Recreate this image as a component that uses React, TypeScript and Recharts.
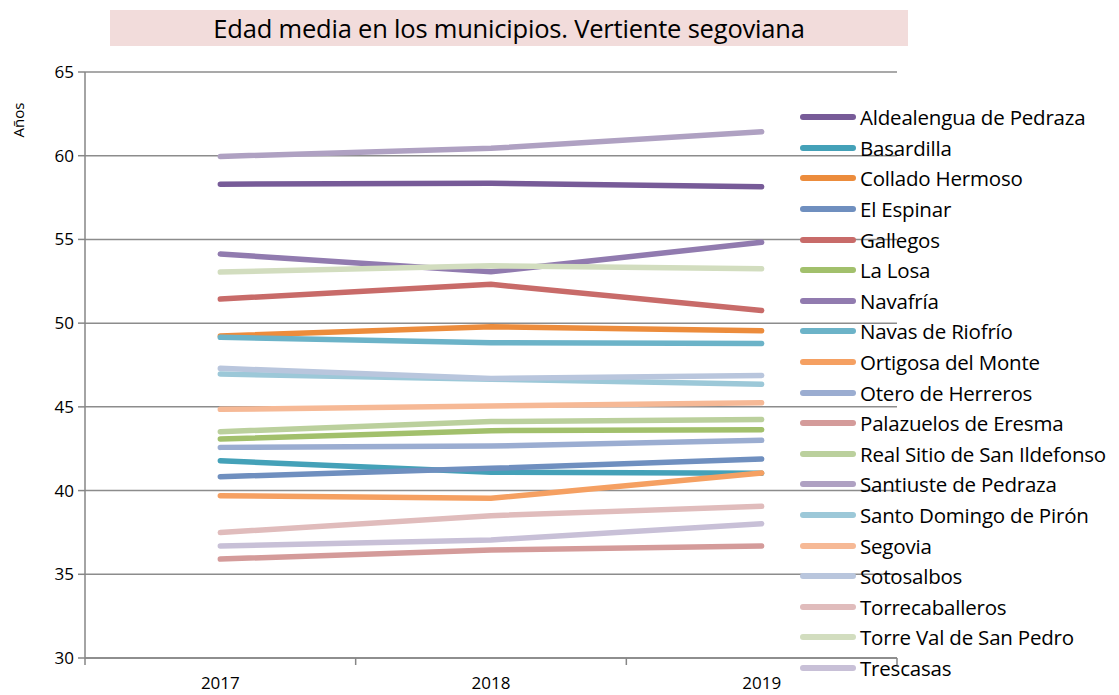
import { LineChart, Line, XAxis, YAxis, CartesianGrid } from 'recharts';

const years = ['2017', '2018', '2019'];

const municipios = [
  'Aldealengua de Pedraza',
  'Basardilla',
  'Collado Hermoso',
  'El Espinar',
  'Gallegos',
  'La Losa',
  'Navafría',
  'Navas de Riofrío',
  'Ortigosa del Monte',
  'Otero de Herreros',
  'Palazuelos de Eresma',
  'Real Sitio de San Ildefonso',
  'Santiuste de Pedraza',
  'Santo Domingo de Pirón',
  'Segovia',
  'Sotosalbos',
  'Torrecaballeros',
  'Torre Val de San Pedro',
  'Trescasas',
];

const colores = [
  '#775B98', '#44A1B8', '#EC8C3C', '#6F8FBF', '#C86B69', '#A2C06C', '#917BAF',
  '#6CB3C8', '#F5A062', '#9BADD1', '#D49B9A', '#BBD09D', '#AFA1C2', '#9CC8D8',
  '#F6B996', '#B9C6DD', '#E0BCBC', '#D2DDBF', '#C8C0D7',
];

const edad2017 = [58.3, 41.78, 49.23, 40.83, 51.44, 43.08, 54.13, 49.15, 39.69, 42.58, 35.91, 43.52, 59.96, 46.96, 44.85, 47.3, 37.49, 53.05, 36.69];
const edad2018 = [58.35, 41.1, 49.79, 41.33, 52.32, 43.58, 53.07, 48.83, 39.54, 42.66, 36.45, 44.12, 60.44, 46.65, 45.05, 46.7, 38.5, 53.43, 37.05];
const edad2019 = [58.15, 41.03, 49.55, 41.89, 50.75, 43.64, 54.83, 48.79, 41.05, 43.0, 36.69, 44.24, 61.43, 46.35, 45.25, 46.88, 39.06, 53.25, 38.02];

const yTicks = [30, 35, 40, 45, 50, 55, 60, 65];

const porAnio = [edad2017, edad2018, edad2019];
const data = years.map((year, i) => {
  const row: Record<string, string | number> = { year };
  municipios.forEach((m, j) => {
    row[m] = porAnio[i][j];
  });
  return row;
});

const FONT = '"Open Sans", sans-serif';
const AXIS = '#868686';

function YearTick(props: any) {
  const { x, y, payload, index, width, visibleTicksCount } = props;
  const half = payload.offset || width / visibleTicksCount / 2;
  return (
    <g>
      <line x1={x - half} y1={y} x2={x - half} y2={y + 7} stroke={AXIS} strokeWidth={1.5} />
      {index === visibleTicksCount - 1 && (
        <line x1={x + half} y1={y} x2={x + half} y2={y + 7} stroke={AXIS} strokeWidth={1.5} />
      )}
      <text x={x} y={y + 31} textAnchor="middle" fontSize={17} fill="#000" fontFamily={FONT}>
        {payload.value}
      </text>
    </g>
  );
}

// leyenda propia: la de recharts reserva espacio y reordena
function Leyenda() {
  return (
    <div
      style={{
        position: 'absolute', left: 800, top: 102, fontFamily: FONT, fontSize: 20.5, color: '#000',
        letterSpacing: -0.2,
      }}
    >
      {municipios.map((m, i) => (
        <div key={m} style={{ display: 'flex', alignItems: 'center', height: 30.6 }}>
          <span
            style={{ width: 56, height: 6, borderRadius: 3, background: colores[i], marginRight: 4 }}
          />
          <span style={{ whiteSpace: 'nowrap' }}>{m}</span>
        </div>
      ))}
    </div>
  );
}

export default function App() {
  return (
    <div style={{ position: 'absolute', left: 0, top: 0, width: 1119, height: 695, background: '#fff' }}>
      <div
        style={{
          position: 'absolute', left: 110, top: 10, width: 798, height: 36,
          background: '#F2DCDB', fontFamily: FONT, fontSize: 25.5, color: '#000',
          display: 'flex', alignItems: 'center', justifyContent: 'center', letterSpacing: -0.2,
        }}
      >
        Edad media en los municipios. Vertiente segoviana
      </div>
      <div
        style={{
          position: 'absolute', left: 6, top: 120, fontFamily: FONT, fontSize: 15,
          transform: 'translate(-50%, -50%) rotate(-90deg)', transformOrigin: 'center',
          marginLeft: 12,
        }}
      >
        Años
      </div>
      <LineChart width={1119} height={695} data={data} margin={{ top: 72, right: 222, bottom: 0, left: 0 }}>
        <CartesianGrid vertical={false} stroke="#8C8C8C" strokeWidth={1.5} />
        <XAxis
          dataKey="year"
          scale="band"
          height={37}
          stroke={AXIS}
          strokeWidth={1.5}
          tickLine={false}
          tickSize={0}
          tickMargin={0}
          tick={<YearTick />}
        />
        <YAxis
          domain={[30, 65]}
          ticks={yTicks}
          width={85}
          stroke={AXIS}
          strokeWidth={1.5}
          tickSize={7}
          tickMargin={4}
          tick={{ fill: '#000', fontSize: 17, fontFamily: FONT }}
          allowDataOverflow
        />
        {municipios.map((m, i) => (
          <Line
            key={m}
            dataKey={m}
            name={m}
            stroke={colores[i]}
            strokeWidth={5.5}
            strokeLinecap="round"
            dot={false}
            activeDot={false}
            isAnimationActive={false}
          />
        ))}
      </LineChart>
      <Leyenda />
    </div>
  );
}
